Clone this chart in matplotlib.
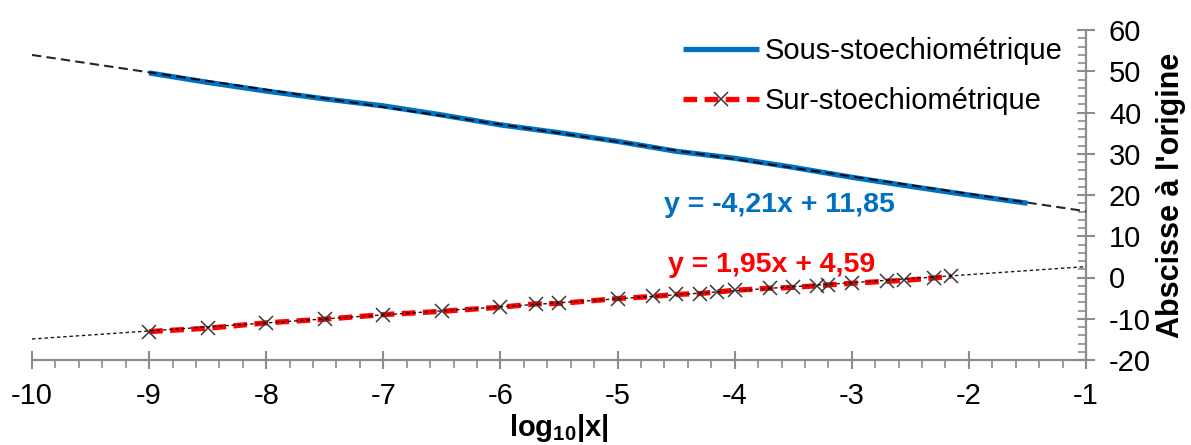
import numpy as np
import matplotlib
matplotlib.use("Agg")
import matplotlib.pyplot as plt
from matplotlib.ticker import MultipleLocator

# ---- data ----
sous_x = [-9, -8.5, -8, -7.5, -7, -6.5, -6, -5.5, -5, -4.5, -4, -3.5, -3, -2.5, -2, -1.5]
sous_y = [49.6, 47.3, 45.2, 43.3, 41.6, 39.4, 37.0, 35.1, 33.0, 30.6, 28.9, 26.7, 24.3, 22.1, 20.0, 18.0]

sur_x = [-9, -8.5, -8, -7.5, -7, -6.5, -6, -5.7, -5.5, -5, -4.7, -4.5, -4.3, -4.15, -4,
         -3.7, -3.5, -3.3, -3.2, -3, -2.7, -2.55, -2.3, -2.15]
sur_y = [-13.1, -12.3, -11.0, -10.1, -9.0, -8.2, -7.2, -6.4, -6.3, -5.1, -4.6, -4.1, -3.9, -3.5, -3.1,
         -2.6, -2.4, -2.0, -1.8, -1.4, -0.9, -0.7, -0.1, 0.3]

sous_fit = (-4.21, 11.85)
sur_fit = (1.95, 4.59)
trend_range = [-10, -1]

sous_label = "Sous-stoechiométrique"
sur_label = "Sur-stoechiométrique"
sous_eq = "y = -4,21x + 11,85"
sur_eq = "y = 1,95x + 4,59"
xlabel = "log$_{10}$|x|"
ylabel = "Abscisse à l'origine"

plt.rcParams['font.family'] = ['Liberation Sans', 'DejaVu Sans']
plt.rcParams['mathtext.default'] = 'regular'
plt.rcParams['axes.unicode_minus'] = False

BLUE = '#0070C0'
GRAY = '#8c8c8c'
FS = 21

fig = plt.figure(figsize=(11.91, 4.45), dpi=100)
ax = fig.add_axes([32/1191, 1 - 360/445, (1086 - 32)/1191, (360 - 30)/445])

tx = np.array(trend_range, dtype=float)

# Sous series + trend
ax.plot(sous_x, sous_y, color=BLUE, lw=3.8, solid_capstyle='butt', zorder=3, label=sous_label)
ax.plot(tx, sous_fit[0] * tx + sous_fit[1], color='black', lw=1.5, dashes=(4.5, 2.5), zorder=4, alpha=0.85)

# Sur series + trend
ax.plot(sur_x, sur_y, color='#ff0000', lw=3.8, dashes=(2.6, 1.4), marker='x', markersize=10.5,
        markeredgecolor='#3a3a3a', markeredgewidth=1.1, zorder=3, label=sur_label)
ax.plot(tx, sur_fit[0] * tx + sur_fit[1], color='black', lw=1.0, dashes=(2.5, 2), zorder=4, alpha=0.9)

# Equation labels
ax.text(-4.6, 17.6, sous_eq, color=BLUE, fontsize=20.5, fontweight='bold', va='center', ha='left')
ax.text(-4.57, 3.0, sur_eq, color='#ff0000', fontsize=20.5, fontweight='bold', va='center', ha='left')

ax.set_xlim(-10, -1)
ax.set_ylim(-20, 60)

for s in ['top', 'left']:
    ax.spines[s].set_visible(False)
for s in ['bottom', 'right']:
    ax.spines[s].set_color(GRAY)
    ax.spines[s].set_linewidth(1.6)

ax.yaxis.tick_right()
ax.yaxis.set_label_position('right')
ax.xaxis.set_major_locator(MultipleLocator(1))
ax.xaxis.set_minor_locator(MultipleLocator(0.2))
ax.yaxis.set_major_locator(MultipleLocator(10))
ax.yaxis.set_minor_locator(MultipleLocator(2))

ax.tick_params(axis='x', which='major', direction='inout', length=13, width=1.5, color=GRAY,
               labelsize=FS, pad=9)
ax.tick_params(axis='x', which='minor', direction='out', length=5.5, width=1.2, color=GRAY)
ax.tick_params(axis='y', which='major', direction='inout', length=13, width=1.5, color=GRAY,
               labelsize=FS, pad=10)
ax.tick_params(axis='y', which='minor', direction='in', length=5.5, width=1.2, color=GRAY)

ax.set_xlabel(xlabel, fontsize=FS, fontweight='bold', labelpad=2)
ax.set_ylabel(ylabel, fontsize=22, fontweight='bold', labelpad=4)

leg = ax.legend(loc='upper left', bbox_to_anchor=(683/1191, 1 - 37/445), bbox_transform=fig.transFigure,
                frameon=False, fontsize=FS, handlelength=2.6, handletextpad=0.2, labelspacing=0.75,
                borderpad=0, borderaxespad=0)

fig.savefig('out.png', dpi=100)
